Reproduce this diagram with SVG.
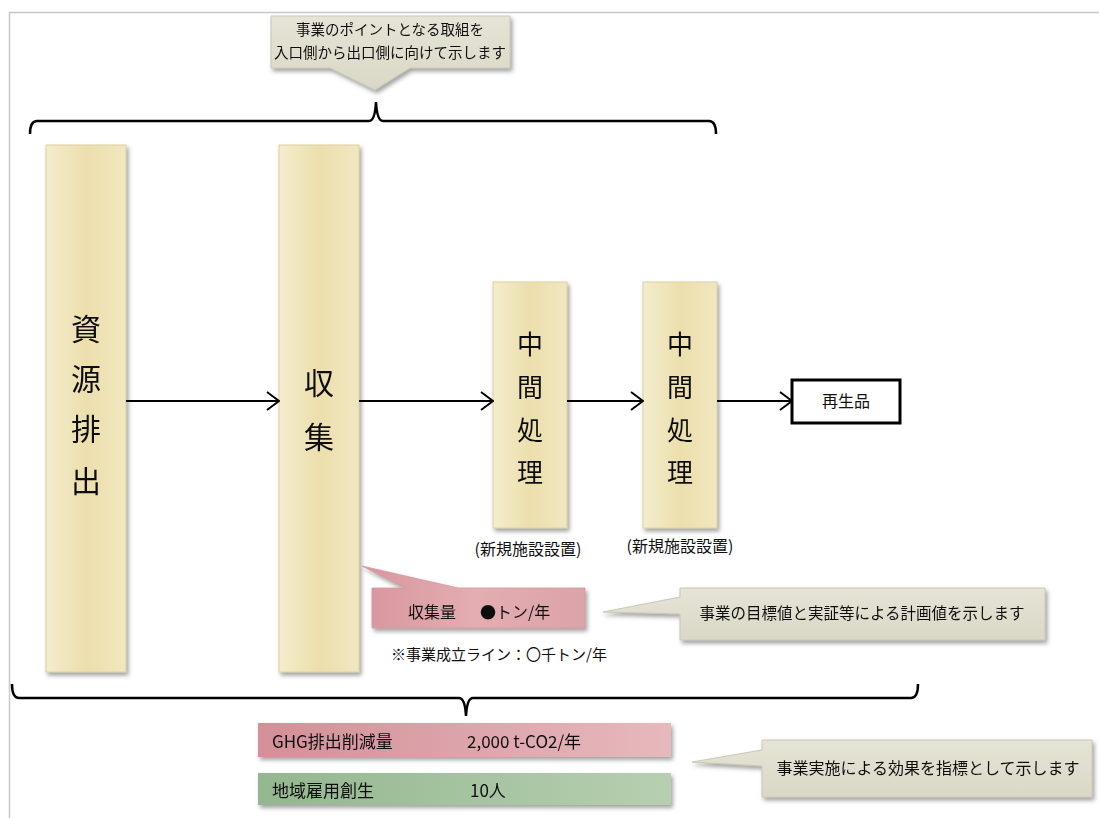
<svg xmlns="http://www.w3.org/2000/svg" width="1099" height="818" viewBox="0 0 1099 818">
<defs>
<linearGradient id="tan" x1="0" y1="0" x2="1" y2="0">
<stop offset="0" stop-color="#f4edcd"/><stop offset="0.5" stop-color="#ecdfad"/><stop offset="1" stop-color="#f1e7c0"/>
</linearGradient>
<linearGradient id="pink" x1="0" y1="0" x2="1" y2="0">
<stop offset="0" stop-color="#d8959d"/><stop offset="0.5" stop-color="#e3adb2"/><stop offset="1" stop-color="#dca3a9"/>
</linearGradient>
<linearGradient id="pinkbar" x1="0" y1="0" x2="1" y2="0">
<stop offset="0" stop-color="#d48f98"/><stop offset="1" stop-color="#e6b9bd"/>
</linearGradient>
<linearGradient id="greenbar" x1="0" y1="0" x2="1" y2="0">
<stop offset="0" stop-color="#93b78f"/><stop offset="1" stop-color="#b6cfb0"/>
</linearGradient>
<linearGradient id="grey" x1="0" y1="0" x2="0" y2="1">
<stop offset="0" stop-color="#e6e4d6"/><stop offset="1" stop-color="#d9d7c5"/>
</linearGradient>
<filter id="sh" x="-10%" y="-10%" width="130%" height="130%">
<feDropShadow dx="2" dy="3" stdDeviation="2" flood-color="#666" flood-opacity="0.6"/>
</filter>
<marker id="arr" viewBox="0 0 14 20" refX="13" refY="10" markerWidth="14" markerHeight="20" markerUnits="userSpaceOnUse" orient="auto">
<path d="M1,1 L13,10 L1,19" fill="none" stroke="#000" stroke-width="2"/>
</marker>
</defs>
<style>
.jp{font-family:"Noto Sans CJK JP","Noto Sans",sans-serif;fill:#111}
.tan{fill:url(#tan);stroke:#ddd1a0;stroke-width:1}
.call{fill:url(#grey);stroke:#cac8b6;stroke-width:1}
.conn{stroke:#000;stroke-width:2;fill:none}
.brace{stroke:#000;stroke-width:2.5;fill:none}
</style>
<rect width="1099" height="818" fill="#fff"/>
<g id="frame" stroke="#c8c8c8" stroke-width="1.5" fill="none">
<path d="M1099 12.5 H9.5 V818"/>
</g>
<g id="callout-top" filter="url(#sh)">
<path class="call" d="M271 16 H510 V68 H410 L375 90 L330 68 H271 Z"/>
<text class="jp" x="390" y="35" font-size="14.5" text-anchor="middle">事業のポイントとなる取組を</text>
<text class="jp" x="390" y="58" font-size="14.5" text-anchor="middle">入口側から出口側に向けて示します</text>
</g>
<g id="braces">
<path class="brace" d="M30 134 Q30 121 37 121 L369 121 Q375 121 376 102 Q377 121 383 121 L709 121 Q716 121 716 134"/>
<path class="brace" d="M12 684 Q12 698 19 698 L459 698 Q465 698 466 716 Q467 698 473 698 L911 698 Q918 698 918 684"/>
</g>
<g id="node-shigen" filter="url(#sh)">
<rect class="tan" x="46" y="145" width="80" height="527"/>
<text class="jp" x="86" font-size="30" text-anchor="middle"><tspan x="86" y="340">資</tspan><tspan x="86" y="390">源</tspan><tspan x="86" y="440">排</tspan><tspan x="86" y="492">出</tspan></text>
</g>
<g id="node-shushu" filter="url(#sh)">
<rect class="tan" x="279" y="145" width="80" height="527"/>
<text class="jp" x="319" font-size="30" text-anchor="middle"><tspan x="319" y="394">収</tspan><tspan x="319" y="448">集</tspan></text>
</g>
<g id="node-chukan1" filter="url(#sh)">
<rect class="tan" x="493" y="282" width="74" height="246"/>
<text class="jp" x="530" font-size="26" text-anchor="middle"><tspan x="530" y="354">中</tspan><tspan x="530" y="397">間</tspan><tspan x="530" y="440">処</tspan><tspan x="530" y="482">理</tspan></text>
</g>
<g id="node-chukan2" filter="url(#sh)">
<rect class="tan" x="643" y="282" width="74" height="246"/>
<text class="jp" x="680" font-size="26" text-anchor="middle"><tspan x="680" y="354">中</tspan><tspan x="680" y="397">間</tspan><tspan x="680" y="440">処</tspan><tspan x="680" y="482">理</tspan></text>
</g>
<g id="label-shinki">
<text class="jp" x="528" y="555" font-size="16" text-anchor="middle">(新規施設設置)</text>
<text class="jp" x="680" y="552" font-size="16" text-anchor="middle">(新規施設設置)</text>
</g>
<g id="node-saiseihin">
<rect x="792" y="380" width="108" height="43" fill="#fff" stroke="#000" stroke-width="3"/>
<text class="jp" x="846" y="407" font-size="16" text-anchor="middle">再生品</text>
</g>
<g id="connectors">
<line class="conn" x1="126" y1="401" x2="279" y2="401" marker-end="url(#arr)"/>
<line class="conn" x1="359" y1="401" x2="493" y2="401" marker-end="url(#arr)"/>
<line class="conn" x1="567" y1="401" x2="643" y2="401" marker-end="url(#arr)"/>
<line class="conn" x1="717" y1="401" x2="792" y2="401" marker-end="url(#arr)"/>
</g>
<g id="callout-shushu" filter="url(#sh)">
<path d="M362 566 L458 588 H585 V628 H372 V588 H405 Z" fill="url(#pink)" stroke="#d59aa0" stroke-width="0.8"/>
<text class="jp" x="408" y="618" font-size="16">収集量</text>
<text class="jp" x="480" y="618" font-size="16">●トン/年</text>
</g>
<g id="label-line">
<text class="jp" x="391" y="660" font-size="15">※事業成立ライン：〇千トン/年</text>
</g>
<g id="callout-target" filter="url(#sh)">
<path class="call" d="M680 588 H1045 V640 H680 V614 L603 612 L680 597 Z"/>
<text class="jp" x="862" y="619" font-size="15.5" text-anchor="middle">事業の目標値と実証等による計画値を示します</text>
</g>
<g id="bar-ghg" filter="url(#sh)">
<rect x="258" y="723" width="413" height="34" fill="url(#pinkbar)"/>
<text class="jp" x="272" y="748" font-size="17">GHG排出削減量</text>
<text class="jp" x="467" y="748" font-size="17">2,000 t-CO2/年</text>
</g>
<g id="bar-koyo" filter="url(#sh)">
<rect x="258" y="773" width="413" height="32" fill="url(#greenbar)"/>
<text class="jp" x="272" y="797" font-size="17">地域雇用創生</text>
<text class="jp" x="470" y="797" font-size="17">10人</text>
</g>
<g id="callout-effect" filter="url(#sh)">
<path class="call" d="M762 740 H1092 V797 H762 V766 L692 762 L762 750 Z"/>
<text class="jp" x="928" y="774" font-size="16" text-anchor="middle">事業実施による効果を指標として示します</text>
</g>
</svg>
